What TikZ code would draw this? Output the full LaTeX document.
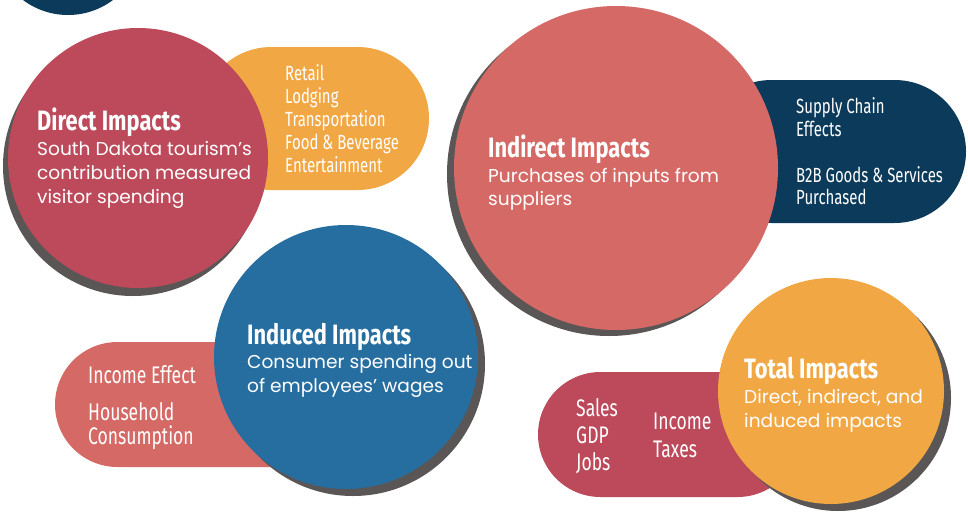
\documentclass[tikz,border=0pt]{standalone}
\usepackage{fontspec}
\setmainfont{Poppins}
\newfontfamily\hdfont[FakeStretch=0.78]{Fira Sans}
\newfontfamily\condfont[FakeStretch=0.73]{Fira Sans}
\newfontfamily\bodyfont{Poppins}
\definecolor{navy}{HTML}{0C3A5B}
\definecolor{crimson}{HTML}{BC4A5B}
\definecolor{salmon}{HTML}{D56966}
\definecolor{orangeC}{HTML}{F1A844}
\definecolor{blueC}{HTML}{276EA0}
\definecolor{shadowC}{HTML}{595655}
\tikzset{
  disc/.style={circle, inner sep=0pt, minimum size=#1},
  pill/.style={rounded corners=#1},
  hd/.style={anchor=base west, inner sep=0pt, text=white, font=\hdfont\bfseries\fontsize{28}{32}\selectfont},
  item/.style={anchor=base west, inner sep=0pt, text=white, font=\condfont\fontsize{20.5}{24}\selectfont},
  bigitem/.style={anchor=base west, inner sep=0pt, text=white, font=\condfont\fontsize{24}{28}\selectfont},
  bd/.style={anchor=base west, inner sep=0pt, text=white, font=\bodyfont\fontsize{18.6}{22}\selectfont},
}
\begin{document}
\begin{tikzpicture}[x=1pt,y=-1pt]
\useasboundingbox (0,0) rectangle (968,514);
\fill[white] (0,0) rectangle (968,514);
% top-left partial circle
\node[disc=150pt, fill=navy] (topc) at (68,-60) {};
% pills
\fill[orangeC, pill=71.5pt] (200,47) rectangle (429,190);
\fill[navy, pill=71.5pt] (700,80) rectangle (966,223);
\fill[salmon, pill=62.5pt] (55,342) rectangle (340,467);
\fill[crimson, pill=62.5pt] (538,372) rectangle (800,497);
% shadows and circles
\node[disc=260pt, fill=shadowC] (dsh) at (133,166) {};
\node[disc=260pt, fill=crimson] (direct) at (138,158) {};
\node[disc=324pt, fill=shadowC] (ish) at (609,174) {};
\node[disc=324pt, fill=salmon] (indirect) at (616,168) {};
\node[disc=264pt, fill=shadowC] (nsh) at (353,364) {};
\node[disc=264pt, fill=blueC] (induced) at (346,357) {};
\node[disc=226pt, fill=shadowC] (tsh) at (838,398) {};
\node[disc=226pt, fill=orangeC] (total) at (831,391) {};
% Direct
\node[hd] (dh) at (37,130) {Direct Impacts};
\node[bd] (db1) at (37,155) {South Dakota tourism’s};
\node[bd] (db2) at (37,179) {contribution measured};
\node[bd] (db3) at (37,203) {visitor spending};
\node[item] (o1) at (285,80) {Retail};
\node[item] (o2) at (285,103) {Lodging};
\node[item] (o3) at (285,126) {Transportation};
\node[item] (o4) at (285,149) {Food \& Beverage};
\node[item] (o5) at (285,172) {Entertainment};
% Indirect
\node[hd] (ih) at (488,157) {Indirect Impacts};
\node[bd] (ib1) at (488,182) {Purchases of inputs from};
\node[bd] (ib2) at (488,205) {suppliers};
\node[item] (n1) at (796,113) {Supply Chain};
\node[item] (n2) at (796,136) {Effects};
\node[item] (n3) at (796,182) {B2B Goods \& Services};
\node[item] (n4) at (796,204) {Purchased};
% Induced
\node[hd] (uh) at (247,344) {Induced Impacts};
\node[bd] (ub1) at (247,368) {Consumer spending out};
\node[bd] (ub2) at (247,392) {of employees’ wages};
\node[bigitem] (s1) at (88,383) {Income Effect};
\node[bigitem, align=left, font=\condfont\fontsize{24}{23.5}\selectfont] (s2) at (88,444) {Household\\Consumption};
% Total
\node[hd] (th) at (744,378) {Total Impacts};
\node[bd] (tb1) at (744,403) {Direct, indirect, and};
\node[bd] (tb2) at (744,427) {induced impacts};
\node[bigitem] (c1) at (576,416) {Sales};
\node[bigitem] (c2) at (576,443) {GDP};
\node[bigitem] (c3) at (576,470) {Jobs};
\node[bigitem] (c4) at (653,429) {Income};
\node[bigitem] (c5) at (653,457) {Taxes};
\end{tikzpicture}
\end{document}
